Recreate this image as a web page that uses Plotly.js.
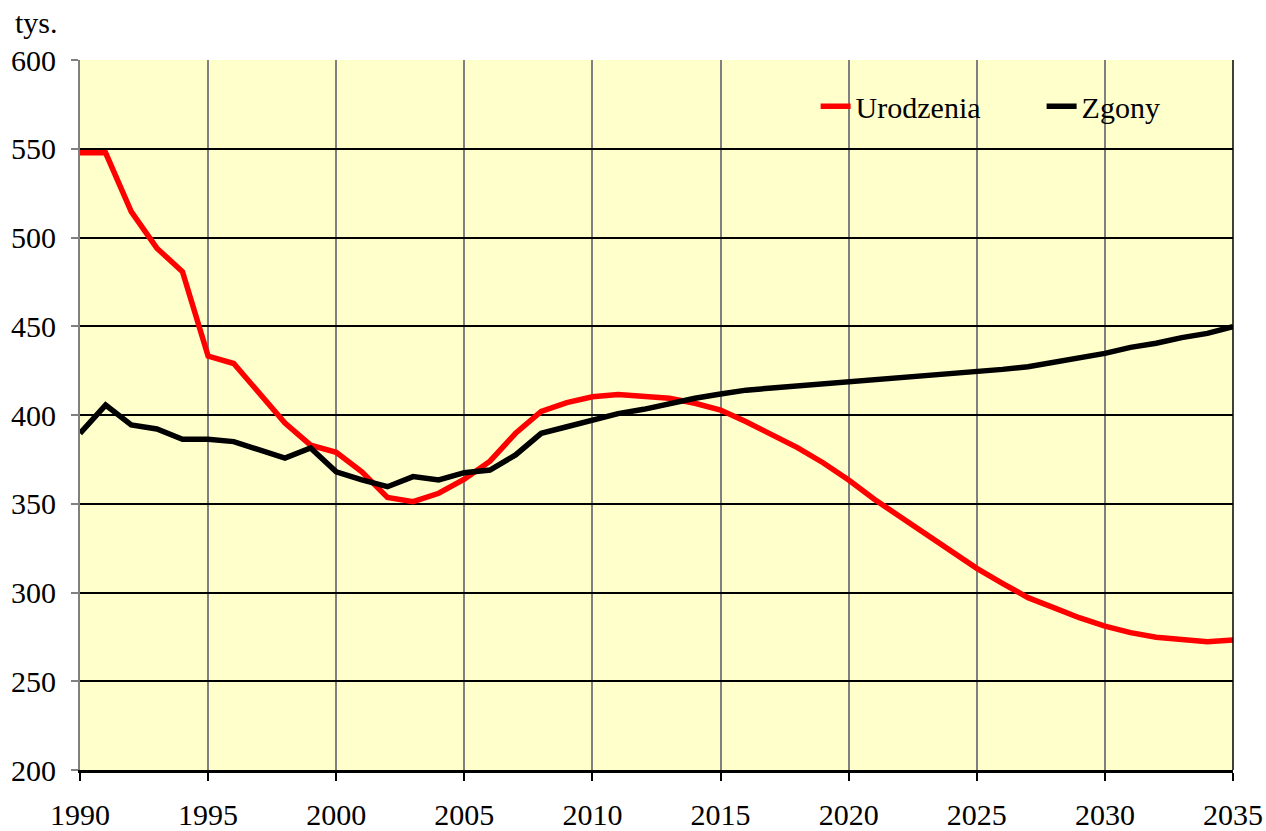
<!DOCTYPE html>
<html>
<head>
<meta charset="utf-8">
<script src="https://cdn.plot.ly/plotly-3.0.1.min.js"></script>
<style>html,body{margin:0;padding:0;background:#fff;}#chart{width:1266px;height:831px;}</style>
</head>
<body>
<div id="chart"></div>
<script>
const years = [1990,1991,1992,1993,1994,1995,1996,1997,1998,1999,
  2000,2001,2002,2003,2004,2005,2006,2007,2008,2009,
  2010,2011,2012,2013,2014,2015,2016,2017,2018,2019,
  2020,2021,2022,2023,2024,2025,2026,2027,2028,2029,
  2030,2031,2032,2033,2034,2035];

const urodzenia = [547.7,547.7,514.6,494.0,480.7,433.2,429.0,412.5,395.5,383.0,
  379.0,368.0,353.6,351.2,355.9,363.8,374.0,389.7,402.0,407.0,
  410.3,411.5,410.7,409.4,406.6,402.8,396.2,388.7,381.6,373.1,
  363.4,352.5,342.7,333.0,323.0,313.6,305.2,297.1,291.5,285.8,
  281.1,277.4,274.8,273.6,272.3,273.2];

const zgony = [389.7,405.6,394.4,392.1,386.3,386.3,385.0,380.5,375.7,381.4,
  368.0,363.4,359.6,365.3,363.4,367.5,369.0,377.5,389.7,393.4,
  397.0,400.8,403.2,406.6,409.4,411.8,414.0,415.2,416.3,417.5,
  418.6,419.7,420.8,422.0,423.3,424.6,425.7,427.2,429.7,432.3,
  434.7,438.1,440.4,443.6,446.0,449.8];

const seriesNames = ["Urodzenia", "Zgony"];
const unitLabel = "tys.";

const FONT = '"Liberation Serif", "Times New Roman", serif';
const FS = 30;

const traces = [
  {x: years, y: urodzenia, name: seriesNames[0], type: 'scatter', mode: 'lines',
   line: {color: '#ff0000', width: 5.5}},
  {x: years, y: zgony, name: seriesNames[1], type: 'scatter', mode: 'lines',
   line: {color: '#000000', width: 5.5}}
];

const layout = {
  width: 1266, height: 831,
  margin: {l: 80, r: 33, t: 60, b: 61, autoexpand: false},
  paper_bgcolor: '#ffffff',
  plot_bgcolor: '#ffffcc',
  font: {family: FONT, size: FS, color: '#000'},
  showlegend: true,
  legend: {
    orientation: 'h', x: 0.638, y: 0.935, xanchor: 'left', yanchor: 'middle',
    bgcolor: 'rgba(0,0,0,0)', font: {family: FONT, size: FS, color: '#000'},
    entrywidth: 181, entrywidthmode: 'pixels'
  },
  xaxis: {
    range: [1990, 2035], tick0: 1990, dtick: 5, tickmode: 'linear',
    showgrid: true, gridcolor: '#808080', gridwidth: 2,
    showline: true, linecolor: '#000', linewidth: 3,
    ticks: 'outside', ticklen: 8, tickwidth: 2, tickcolor: '#000',
    ticklabelstandoff: 8, zeroline: false, fixedrange: true, automargin: false,
    tickfont: {family: FONT, size: FS, color: '#000'}
  },
  yaxis: {
    range: [200, 600], tick0: 200, dtick: 50, tickmode: 'linear',
    showgrid: true, gridcolor: '#000', gridwidth: 2,
    showline: true, linecolor: '#808080', linewidth: 2,
    ticks: 'outside', ticklen: 7, tickwidth: 2, tickcolor: '#808080',
    ticklabelstandoff: 9, zeroline: false, fixedrange: true, automargin: false,
    tickfont: {family: FONT, size: FS, color: '#000'}
  },
  shapes: [
    {type: 'line', xref: 'paper', yref: 'paper', x0: 1, x1: 1, y0: 0, y1: 1,
     line: {color: '#000', width: 1.5}}
  ],
  annotations: [
    {text: unitLabel, xref: 'paper', yref: 'paper', x: -0.038, y: 1.0535,
     xanchor: 'center', yanchor: 'middle', showarrow: false,
     font: {family: FONT, size: FS, color: '#000'}}
  ]
};

Plotly.newPlot('chart', traces, layout, {displayModeBar: false, staticPlot: true});
</script>
</body>
</html>
